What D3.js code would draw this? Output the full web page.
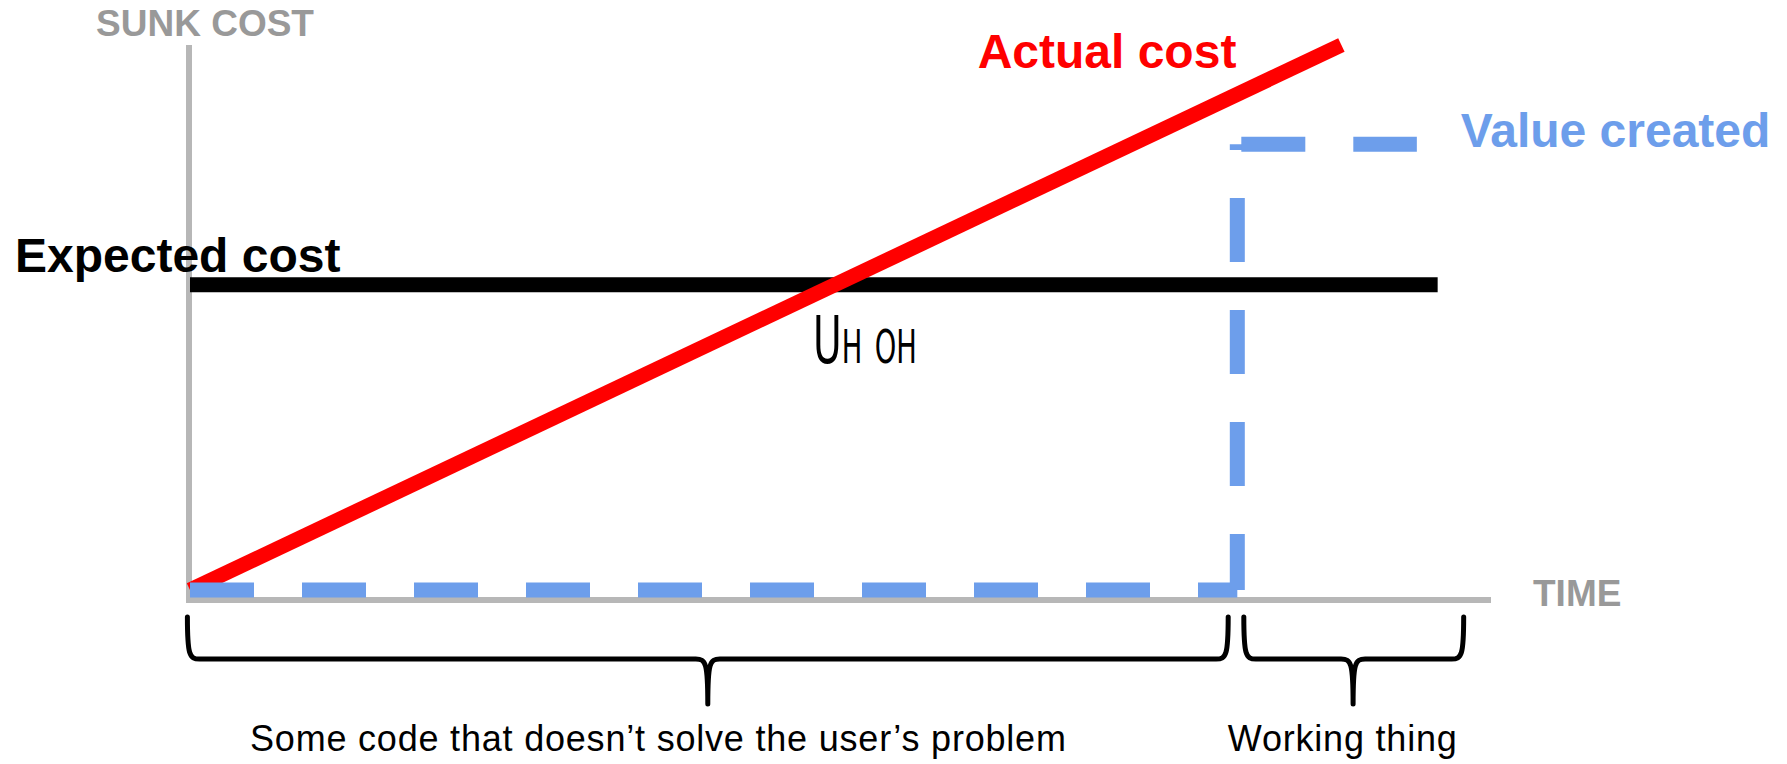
<!DOCTYPE html>
<html>
<head>
<meta charset="utf-8">
<script src="https://cdn.jsdelivr.net/npm/d3@7"></script>
<style>
	body { margin: 0; background: #fff; }
	svg { display: block; font-family: "Helvetica Neue", Helvetica, "Liberation Sans", Arial, sans-serif; }
</style>
</head>
<body>
<svg id="chart" width="1787" height="764"></svg>
<script>
// concept chart: cost vs value over time
var timeDomain = [0, 100],
	costDomain = [0, 100];

var actualCost = [{t: 0, v: 0}, {t: 88.5, v: 100}];
var expectedCost = [{t: 0, v: 56}, {t: 95.9, v: 56}];
var valueCreated = [{t: 0, v: 0}, {t: 80.5, v: 0}, {t: 80.5, v: 81.8}, {t: 94.3, v: 81.8}];

var phases = [
	{label: "Some code that doesn\u2019t solve the user\u2019s problem", start: -0.2, end: 79.8, tip: 39.8, labelAt: 36.0},
	{label: "Working thing", start: 81.0, end: 97.9, tip: 89.4, labelAt: 88.6}
];

var axisTitles = {y: "SUNK COST", x: "TIME"};
var seriesNames = {actual: "Actual cost", expected: "Expected cost", value: "Value created"};
var note = "Uh oh";

var svg = d3.select("#chart");

var x = d3.scaleLinear().domain(timeDomain).range([190, 1491]);
var y = d3.scaleLinear().domain(costDomain).range([590, 45]);

var line = d3.line()
	.x(function(d) { return x(d.t); })
	.y(function(d) { return y(d.v); });

// axes (plain lines, no ticks)
var axisColor = "#b7b7b7";
svg.append("line")
	.attr("x1", x(0) - 1).attr("x2", x(0) - 1)
	.attr("y1", y(100)).attr("y2", y(0) + 13)
	.attr("stroke", axisColor).attr("stroke-width", 6);
svg.append("line")
	.attr("x1", x(0) - 4).attr("x2", x(100))
	.attr("y1", y(0) + 10).attr("y2", y(0) + 10)
	.attr("stroke", axisColor).attr("stroke-width", 6);

svg.append("text")
	.attr("x", x(0) + 15).attr("y", y(100) - 9)
	.attr("text-anchor", "middle")
	.attr("font-size", 37).attr("font-weight", "bold")
	.attr("fill", "#999").text(axisTitles.y);
svg.append("text")
	.attr("x", x(100) + 42).attr("y", y(0) + 16)
	.attr("font-size", 37).attr("font-weight", "bold")
	.attr("fill", "#999").text(axisTitles.x);

// expected cost
svg.append("path")
	.datum(expectedCost)
	.attr("d", line)
	.attr("fill", "none").attr("stroke", "#000").attr("stroke-width", 15);

// actual cost
svg.append("path")
	.datum(actualCost)
	.attr("d", line)
	.attr("fill", "none").attr("stroke", "#ff0000").attr("stroke-width", 15);

// value created, each leg dashed on its own
var dashOffsets = [0, 8, -4];
var legs = d3.pairs(valueCreated);
svg.selectAll(".leg")
	.data(legs)
	.enter().append("path")
	.attr("class", "leg")
	.attr("d", function(d) { return line(d); })
	.attr("fill", "none")
	.attr("stroke", "#6d9eeb")
	.attr("stroke-width", 15)
	.attr("stroke-dasharray", "64 48")
	.attr("stroke-dashoffset", function(d, i) { return dashOffsets[i]; });

// series labels
svg.append("text")
	.attr("x", 15).attr("y", y(expectedCost[0].v) - 13)
	.attr("font-size", 48).attr("font-weight", "bold")
	.attr("fill", "#000").text(seriesNames.expected);
svg.append("text")
	.attr("x", x(actualCost[1].t) - 105).attr("y", y(actualCost[1].v) + 23)
	.attr("text-anchor", "end")
	.attr("font-size", 48).attr("font-weight", "bold")
	.attr("fill", "#ff0000").text(seriesNames.actual);
svg.append("text")
	.attr("x", x(valueCreated[3].t) + 44).attr("y", y(valueCreated[3].v) + 3)
	.attr("font-size", 48).attr("font-weight", "bold")
	.attr("fill", "#6d9eeb").text(seriesNames.value);

// hand written note
svg.append("text")
	.attr("transform", "translate(813,363) scale(0.66,1)")
	.attr("font-family", "'Liberation Sans Narrow', 'DejaVu Sans Condensed', sans-serif")
	.attr("font-size", 66)
	.style("font-variant", "small-caps")
	.attr("fill", "#000").text(note);

// braces under the time axis
var yTop = 617, yMid = 659, yTip = 704, r = 12;
function bracePath(x1, x2, xm) {
	return "M" + x1 + "," + yTop +
		" C" + x1 + "," + (yMid - 4) + " " + (x1 + 2) + "," + yMid + " " + (x1 + r) + "," + yMid +
		" L" + (xm - r) + "," + yMid +
		" C" + (xm - 2) + "," + yMid + " " + xm + "," + (yMid + 4) + " " + xm + "," + yTip +
		" M" + x2 + "," + yTop +
		" C" + x2 + "," + (yMid - 4) + " " + (x2 - 2) + "," + yMid + " " + (x2 - r) + "," + yMid +
		" L" + (xm + r) + "," + yMid +
		" C" + (xm + 2) + "," + yMid + " " + xm + "," + (yMid + 4) + " " + xm + "," + yTip;
}

svg.selectAll(".brace")
	.data(phases)
	.enter().append("path")
	.attr("class", "brace")
	.attr("d", function(d) { return bracePath(x(d.start), x(d.end), x(d.tip)); })
	.attr("fill", "none").attr("stroke", "#000")
	.attr("stroke-width", 5).attr("stroke-linecap", "round");

svg.selectAll(".phase-label")
	.data(phases)
	.enter().append("text")
	.attr("class", "phase-label")
	.attr("x", function(d) { return x(d.labelAt); })
	.attr("y", 751)
	.attr("text-anchor", "middle")
	.attr("font-size", 36)
	.style("letter-spacing", "0.8px")
	.attr("fill", "#000")
	.text(function(d) { return d.label; });
</script>
</body>
</html>
